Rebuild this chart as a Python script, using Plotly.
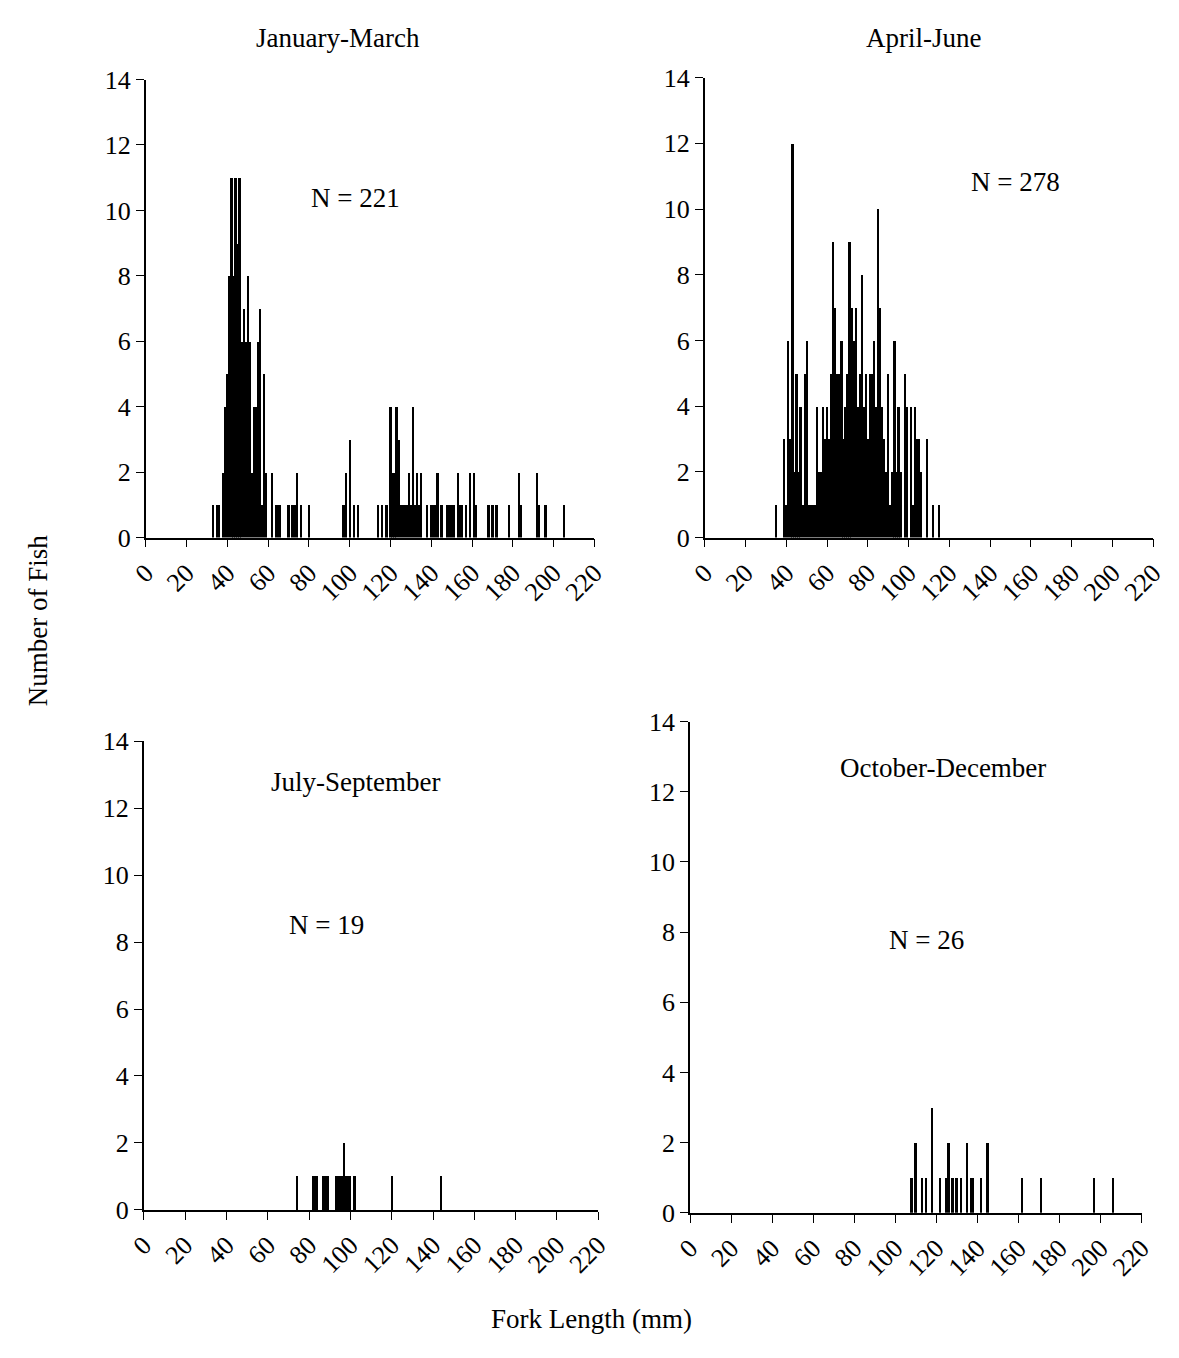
import plotly.graph_objects as go

W, H = 1179, 1358

# ---------------- data ----------------
jan_mar_len = [33, 35, 36, 38, 39, 40, 41, 42, 43, 44, 45, 46, 47, 48, 49, 50, 51, 52, 53, 54,
               55, 56, 57, 58, 59, 62, 64, 65, 66, 70, 72, 73, 74, 76, 80, 97, 98, 100, 102, 104,
               114, 116, 118, 120, 121, 122, 123, 124, 125, 126, 127, 128, 129, 130, 131, 132, 133, 134, 135, 138,
               140, 141, 142, 143, 145, 148, 149, 150, 151, 153, 154, 155, 157, 159, 161, 162, 168, 170, 172, 178,
               183, 184, 192, 193, 196, 205]
jan_mar_cnt = [1, 1, 1, 2, 4, 5, 8, 11, 8, 11, 9, 11, 6, 7, 6, 8, 6, 2, 4, 4,
               6, 7, 1, 5, 2, 2, 1, 1, 1, 1, 1, 1, 2, 1, 1, 1, 2, 3, 1, 1,
               1, 1, 1, 4, 2, 2, 4, 3, 1, 1, 1, 1, 2, 1, 4, 1, 2, 1, 2, 1,
               1, 1, 1, 2, 1, 1, 1, 1, 1, 2, 1, 1, 1, 2, 2, 1, 1, 1, 1, 1,
               2, 1, 2, 1, 1, 1]

apr_jun_len = [35, 39, 40, 41, 42, 43,
               44, 45, 46, 47, 48, 49, 50, 51, 52, 53,
               54, 55, 56, 57, 58, 59, 60, 61, 62, 63,
               64, 65, 66, 67, 68, 69, 70, 71, 72, 73,
               74, 75, 76, 77, 78, 79, 80, 81, 82, 83,
               84, 85, 86, 87, 88, 89, 90, 91, 92, 93,
               94, 95, 96,
               98, 99, 101, 102, 103, 104, 105, 106, 109, 112, 115]
apr_jun_cnt = [1, 3, 1, 6, 3, 12,
               2, 5, 2, 4, 1, 5, 6, 1, 1, 1,
               1, 4, 2, 2, 4, 3, 4, 3, 5, 9,
               7, 5, 5, 6, 3, 4, 5, 9, 7, 6,
               7, 4, 5, 8, 4, 5, 3, 5, 5, 6,
               4, 10, 7, 4, 3, 2, 5, 1, 2, 6,
               2, 4, 2,
               5, 4, 4, 1, 4, 3, 3, 2, 3, 1, 1]

jul_sep_len = [74, 82, 83, 84, 87, 88, 89, 93, 94, 95, 96, 97, 98, 99, 100, 102, 120, 144]
jul_sep_cnt = [1, 1, 1, 1, 1, 1, 1, 1, 1, 1, 1, 2, 1, 1, 1, 1, 1, 1]

oct_dec_len = [108, 110, 113, 115, 118, 122, 125, 126, 128, 130, 132, 135, 137, 138, 142, 145,
               162, 171, 197, 206]
oct_dec_cnt = [1, 2, 1, 1, 3, 1, 1, 2, 1, 1, 1, 2, 1, 1, 1, 2, 1, 1, 1, 1]

panel_titles = ["January-March", "April-June", "July-September", "October-December"]
n_labels = ["N = 221", "N = 278", "N = 19", "N = 26"]
x_ticks = list(range(0, 221, 20))
y_ticks = list(range(0, 15, 2))

series = [(jan_mar_len, jan_mar_cnt), (apr_jun_len, apr_jun_cnt),
          (jul_sep_len, jul_sep_cnt), (oct_dec_len, oct_dec_cnt)]

# ---------------- layout geometry (pixels) ----------------
# (x0, x1, y_bottom, y_top)
boxes = [(133, 593, 535, 67),
         (706, 1166, 535, 65),
         (131, 597, 1222, 743),
         (691, 1154, 1225, 723)]

FONT = "Liberation Serif, Times New Roman, serif"
TICK = 26
TXT = 27

fig = go.Figure()
layout = dict(width=W, height=H, margin=dict(l=0, r=0, t=0, b=0),
              plot_bgcolor="white", paper_bgcolor="white", showlegend=False,
              bargap=0, font=dict(family=FONT, color="black", size=TXT))

for i, ((xs, ys), (x0, x1, yb, yt)) in enumerate(zip(series, boxes)):
    assert len(xs) == len(ys)
    sfx = "" if i == 0 else str(i + 1)
    fig.add_trace(go.Bar(x=xs, y=ys, width=0.85, marker=dict(color="black", line=dict(width=0)),
                         xaxis="x" + sfx, yaxis="y" + sfx, hoverinfo="x+y"))
    layout["xaxis" + sfx] = dict(domain=[x0 / W, x1 / W], range=[0, 220], anchor="y" + sfx,
                                 tickmode="array", tickvals=x_ticks, ticktext=[str(v) for v in x_ticks],
                                 tickangle=-45, ticks="outside", ticklen=8, tickwidth=1.3,
                                 tickcolor="black", showline=True, linecolor="black", linewidth=1.5,
                                 showgrid=False, zeroline=False,
                                 tickfont=dict(family=FONT, size=TICK, color="black"))
    layout["yaxis" + sfx] = dict(domain=[1 - yb / H, 1 - yt / H], range=[0, 14], anchor="x" + sfx,
                                 tickmode="array", tickvals=y_ticks, ticks="outside", ticklen=8,
                                 tickwidth=1.3, tickcolor="black", showline=True, linecolor="black",
                                 linewidth=1.5, showgrid=False, zeroline=False,
                                 tickfont=dict(family=FONT, size=TICK, color="black"))

fig.update_layout(**layout)

def ann(text, px, py, size=TXT, angle=0):
    fig.add_annotation(text=text, x=px / W, y=1 - py / H, xref="paper", yref="paper",
                       showarrow=False, textangle=angle,
                       font=dict(family=FONT, size=size, color="black"),
                       xanchor="center", yanchor="middle")

ann(panel_titles[0], 330, 25)
ann(panel_titles[1], 930, 25)
ann(panel_titles[2], 348, 785)
ann(panel_titles[3], 950, 770)
ann(n_labels[0], 348, 188)
ann(n_labels[1], 1025, 172)
ann(n_labels[2], 318, 931)
ann(n_labels[3], 933, 946)
ann("Number of Fish", 22, 620, angle=-90)
ann("Fork Length (mm)", 590, 1333)

fig.write_html("out.html",
               post_script="document.body.style.margin='0';document.body.style.overflow='hidden';")
